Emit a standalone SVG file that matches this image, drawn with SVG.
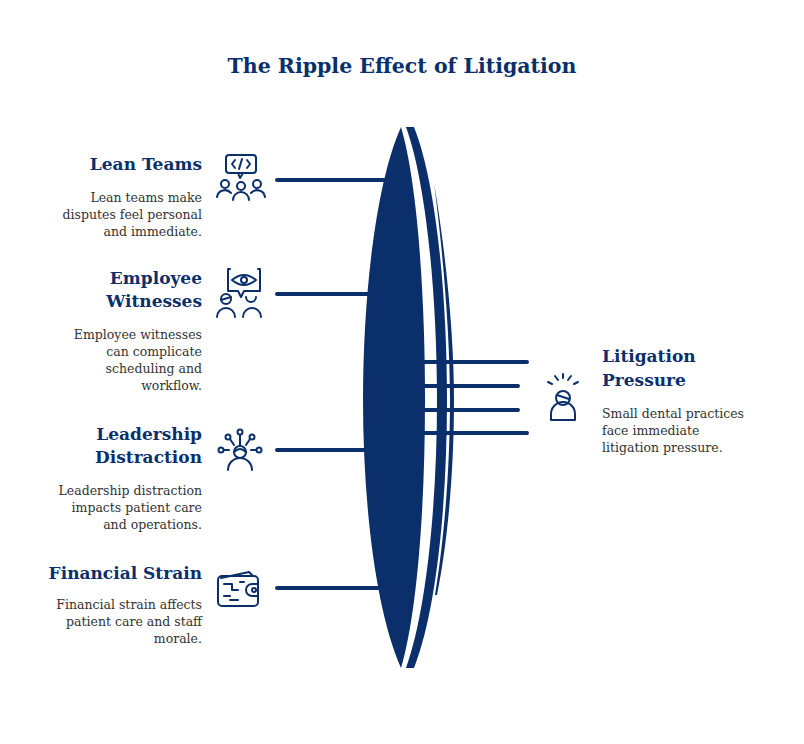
<svg xmlns="http://www.w3.org/2000/svg" width="804" height="744" viewBox="0 0 804 744">
<style>
.t{font-family:"DejaVu Serif",serif;fill:#0b2f6b}
.h{font-size:17px;font-weight:bold}
.b{font-size:12.5px;fill:#333}
.ic{fill:none;stroke:#0b2f6b;stroke-width:2;stroke-linecap:round;stroke-linejoin:round}
.ln{stroke:#0b2f6b;stroke-width:4;stroke-linecap:round;fill:none}
</style>
<rect width="804" height="744" fill="#fff"/>
<text class="t" x="402" y="73" text-anchor="middle" font-size="20.5" font-weight="bold">The Ripple Effect of Litigation</text>
<g id="connectors">
<path class="ln" d="M277 180 L385 180 M277 294 L372 294 M277 450 L370 450 M277 588 L378 588"/>
<path class="ln" d="M420 362 L527 362 M420 386 L518 386 M420 410 L518 410 M420 433 L527 433"/>
</g>
<g id="lens" fill="#0b2f6b">
<path d="M401 127 C375 185 363 300 363 400 C363 500 375 610 401 668 C418 610 425 500 425 400 C425 300 418 185 401 127 Z"/>
<path d="M406 127 L414 127 C437 185 447 300 447 400 C447 500 437 610 414 668 L406 668 C427 610 437 500 437 400 C437 300 427 185 406 127 Z"/>
<path d="M434 183 C447 260 454 340 454 400 C454 470 448 540 437 595 L435 595 C444 540 450 470 450 400 C450 340 444 260 434 183 Z"/>
</g>
<g id="lean-teams">
<text class="t h" x="202" y="170" text-anchor="end">Lean Teams</text>
<text class="t b" text-anchor="end"><tspan x="202" y="202">Lean teams make</tspan><tspan x="202" y="219">disputes feel personal</tspan><tspan x="202" y="236">and immediate.</tspan></text>
<g class="ic"><rect x="226" y="155" width="30" height="18" rx="3"/><path d="M238 173 L240 178 L243 173"/><path d="M235 160 l-3 4 3 4 M247 160 l3 4 -3 4 M242 159 l-3 10"/><circle cx="225" cy="184" r="4"/><circle cx="241" cy="186" r="4"/><circle cx="257" cy="184" r="4"/><path d="M217 197 a8 8 0 0 1 14 -4 M233 200 a8 8 0 0 1 16 0 M251 193 a8 8 0 0 1 14 4"/></g>
</g>
<g id="employee-witnesses">
<text class="t h" x="202" y="284" text-anchor="end">Employee</text>
<text class="t h" x="202" y="307" text-anchor="end">Witnesses</text>
<text class="t b" text-anchor="end"><tspan x="202" y="339">Employee witnesses</tspan><tspan x="202" y="356">can complicate</tspan><tspan x="202" y="373">scheduling and</tspan><tspan x="202" y="390">workflow.</tspan></text>
<g class="ic"><path d="M230 269 l-2 0 0 22 10 0 3 6 3 -6 16 0 0 -22 -2 0"/><path d="M232 280 q12 -10 24 0 q-12 10 -24 0"/><circle cx="244" cy="280" r="3"/><circle cx="226" cy="299" r="5"/><path d="M221 300 l10 -3 M217 317 a9 9 0 0 1 18 0 M246 297 a5 5 0 0 0 10 0 M243 317 a9 9 0 0 1 18 0"/></g>
</g>
<g id="leadership-distraction">
<text class="t h" x="202" y="440" text-anchor="end">Leadership</text>
<text class="t h" x="202" y="463" text-anchor="end">Distraction</text>
<text class="t b" text-anchor="end"><tspan x="202" y="495">Leadership distraction</tspan><tspan x="202" y="512">impacts patient care</tspan><tspan x="202" y="529">and operations.</tspan></text>
<g class="ic"><circle cx="240" cy="452" r="6"/><path d="M234 452 q6 -6 12 0 M228 470 a12 12 0 0 1 24 0"/><circle cx="240" cy="432" r="2.5"/><path d="M240 435 v10"/><circle cx="228" cy="437" r="2.5"/><path d="M230 439 l4 6"/><circle cx="252" cy="437" r="2.5"/><path d="M250 439 l-4 6"/><circle cx="221" cy="450" r="2.5"/><path d="M224 450 h5"/><circle cx="259" cy="450" r="2.5"/><path d="M256 450 h-5"/></g>
</g>
<g id="financial-strain">
<text class="t h" x="202" y="579" text-anchor="end">Financial Strain</text>
<text class="t b" text-anchor="end"><tspan x="202" y="609">Financial strain affects</tspan><tspan x="202" y="626">patient care and staff</tspan><tspan x="202" y="643">morale.</tspan></text>
<g class="ic"><path d="M221 578 l28 -6 4 4"/><rect x="218" y="576" width="40" height="30" rx="4"/><path d="M258 584 h-6 a6 6 0 0 0 0 12 h6"/><circle cx="254" cy="590" r="2"/><path d="M224 584 h8 v6 h6 M224 596 h6 M230 600 h8 M240 582 h4"/></g>
</g>
<g id="litigation-pressure">
<text class="t h" x="602" y="362">Litigation</text>
<text class="t h" x="602" y="386">Pressure</text>
<text class="t b"><tspan x="602" y="418">Small dental practices</tspan><tspan x="602" y="435">face immediate</tspan><tspan x="602" y="452">litigation pressure.</tspan></text>
<g class="ic"><circle cx="563" cy="398" r="7"/><path d="M557 395 l12 4 M551 420 v-6 a12 12 0 0 1 24 0 v6 z M558 380 l-3 -4 M563 378 v-4 M568 380 l3 -4 M552 384 l-4 -2 M574 384 l4 -2"/></g>
</g>
</svg>
